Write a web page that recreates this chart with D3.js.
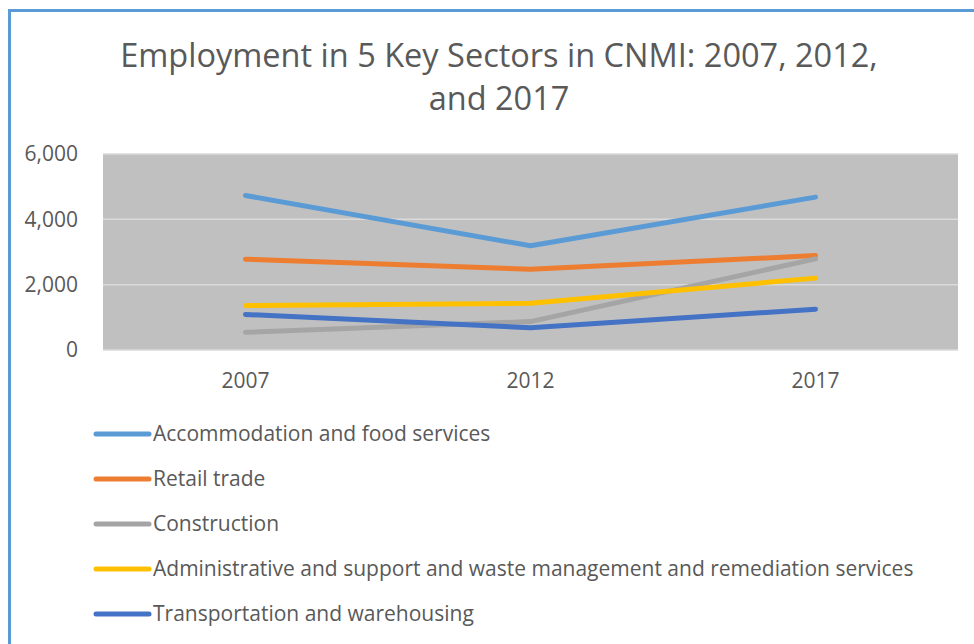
<!DOCTYPE html>
<html>
<head>
<meta charset="utf-8">
<script src="https://cdn.jsdelivr.net/npm/d3@7"></script>
<style>
body { margin: 0; background: #fff; }
svg text { font-family: "Open Sans", "Noto Sans", sans-serif; fill: #595959; }
</style>
</head>
<body>
<div id="chart"></div>
<script>
// data
const years = ["2007", "2012", "2017"];
const sectors = [
  "Accommodation and food services",
  "Retail trade",
  "Construction",
  "Administrative and support and waste management and remediation services",
  "Transportation and warehousing"
];
const accommodation = [4730, 3190, 4680];
const retail = [2780, 2470, 2890];
const construction = [540, 870, 2790];
const administrative = [1360, 1430, 2200];
const transportation = [1090, 680, 1250];
const yTicks = [0, 2000, 4000, 6000];

const colors = ["#5b9bd5", "#ed7d31", "#a5a5a5", "#ffc000", "#4472c4"];
const series = [accommodation, retail, construction, administrative, transportation];

const width = 974;
const height = 644;
const margin = { top: 154, right: 16, bottom: 294, left: 103 };

const svg = d3.select("#chart")
  .append("svg")
    .attr("width", width)
    .attr("height", height);

// outer frame (only left and top edges visible)
svg.append("path")
  .attr("d", `M9.5,${height} V10.5 H${width}`)
  .attr("fill", "none")
  .attr("stroke", "#5b9bd5")
  .attr("stroke-width", 3);

const x = d3.scaleBand()
  .domain(years)
  .range([margin.left, width - margin.right]);

const y = d3.scaleLinear()
  .domain([0, 6000])
  .range([height - margin.bottom, margin.top]);

// plot background
svg.append("rect")
  .attr("x", margin.left)
  .attr("y", margin.top)
  .attr("width", width - margin.right - margin.left)
  .attr("height", y(0) - margin.top)
  .attr("fill", "#c0c0c0");

// gridlines
svg.append("g")
  .selectAll("line")
  .data(yTicks)
  .join("line")
    .attr("x1", margin.left)
    .attr("x2", width - margin.right)
    .attr("y1", d => y(d))
    .attr("y2", d => y(d))
    .attr("stroke", "#dadada")
    .attr("stroke-width", 1.5);

// y axis labels
const yAxis = g => g
  .attr("transform", `translate(${margin.left - 22}, 0)`)
  .call(d3.axisLeft(y).tickValues(yTicks).tickSize(0).tickFormat(d3.format(",")))
  .call(g => g.select(".domain").remove())
  .call(g => g.selectAll("text").attr("font-size", 21).attr("fill", "#595959")
    .style("font-family", "'Open Sans', sans-serif"));
svg.append("g").call(yAxis);

// x axis labels
const xAxis = g => g
  .attr("transform", `translate(0, ${y(0) + 20})`)
  .call(d3.axisBottom(x).tickSize(0))
  .call(g => g.select(".domain").remove())
  .call(g => g.selectAll("text").attr("font-size", 21).attr("fill", "#595959")
    .style("font-family", "'Open Sans', sans-serif"));
svg.append("g").call(xAxis);

// lines
const line = d3.line()
  .x((d, i) => x(years[i]) + x.bandwidth() / 2)
  .y(d => y(d));

svg.append("g")
  .selectAll("path")
  .data(series)
  .join("path")
    .attr("d", line)
    .attr("fill", "none")
    .attr("stroke", (d, i) => colors[i])
    .attr("stroke-width", 5)
    .attr("stroke-linecap", "round")
    .attr("stroke-linejoin", "round");

// title
svg.append("text")
  .attr("text-anchor", "middle")
  .attr("font-size", 32.5)
  .attr("fill", "#595959")
  .selectAll("tspan")
  .data(["Employment in 5 Key Sectors in CNMI: 2007, 2012,", "and 2017"])
  .join("tspan")
    .attr("x", 499)
    .attr("y", (d, i) => 67 + i * 43)
    .text(d => d);

// legend
const legend = svg.append("g")
  .selectAll("g")
  .data(sectors)
  .join("g")
    .attr("transform", (d, i) => `translate(96, ${434 + i * 45})`);

legend.append("line")
  .attr("x1", 0)
  .attr("x2", 53)
  .attr("stroke", (d, i) => colors[i])
  .attr("stroke-width", 5)
  .attr("stroke-linecap", "round");

legend.append("text")
  .attr("x", 57)
  .attr("dy", "0.35em")
  .attr("font-size", 21)
  .text(d => d);
</script>
</body>
</html>
